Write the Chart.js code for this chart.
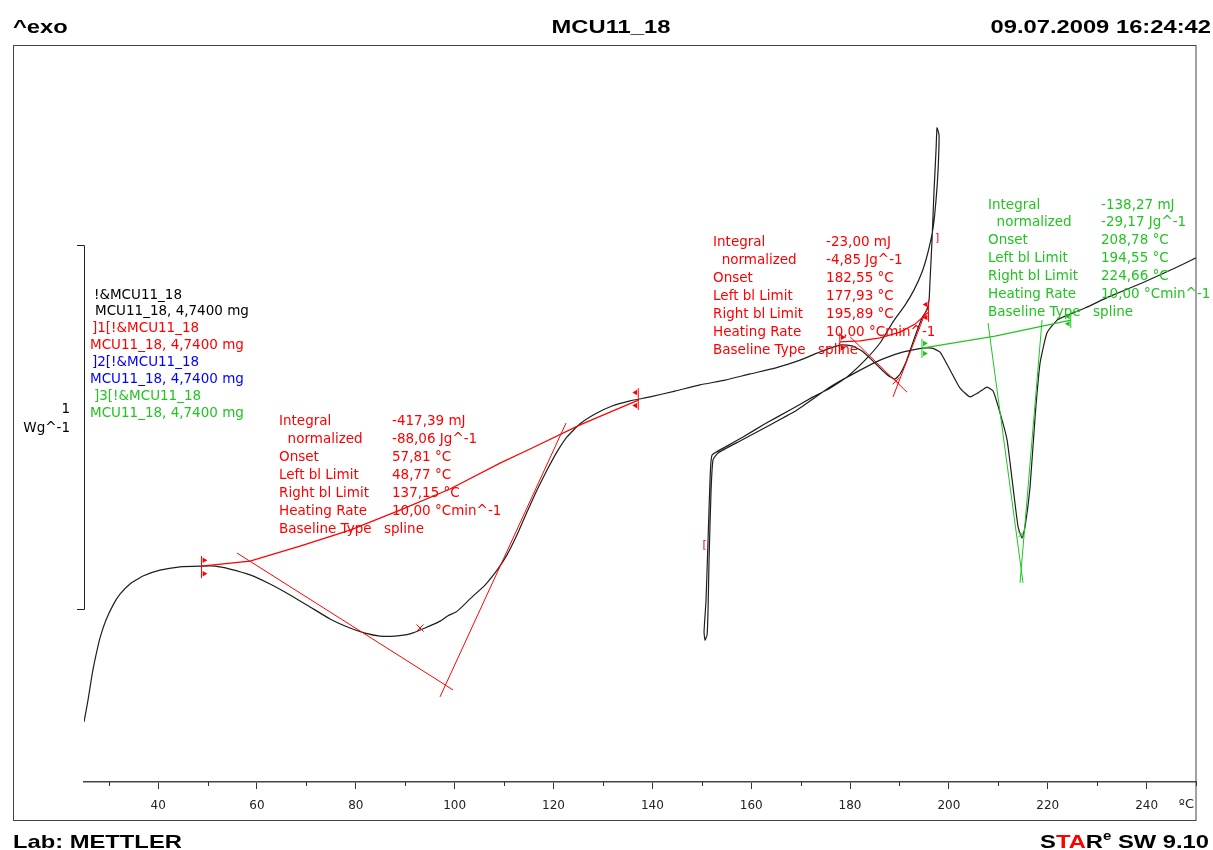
<!DOCTYPE html>
<html>
<head>
<meta charset="utf-8">
<title>MCU11_18</title>
<script src="https://cdn.jsdelivr.net/npm/chart.js@4.4.1/dist/chart.umd.min.js"></script>
<style>
  html, body { margin: 0; padding: 0; background: #fff; }
  canvas { display: block; }
</style>
</head>
<body>
<canvas id="dscChart" width="1213" height="850"></canvas>
<script>
// Temperature in °C, heat flow in W/g (exo up)

// first heating 25 -> 198 °C
const heat1T = [25.0, 25.81, 26.62, 27.43, 28.24, 29.45, 30.87, 32.28, 34.31, 36.94,
    40.38, 44.43, 48.47, 51.51, 54.54, 58.59, 62.64, 66.68, 70.73, 74.78,
    78.83, 81.86, 84.90, 87.93, 90.97, 94.0, 97.04, 98.66, 100.27, 101.69,
    103.11, 106.14, 108.57, 110.59, 112.62, 114.64, 116.66, 118.69, 120.71, 122.73,
    125.37, 128.40, 131.84, 135.48, 139.53, 144.59, 149.65, 154.71, 159.77, 164.82,
    169.88, 172.92, 175.95, 178.38, 180.40, 182.43, 184.45, 186.47, 188.09, 189.11,
    190.12, 191.33, 192.55, 193.76, 194.77, 195.58, 195.99, 196.19, 196.59, 197.0,
    197.40, 197.60];
const heat1W = [0.165, 0.225, 0.294, 0.349, 0.396, 0.445, 0.486, 0.516, 0.544, 0.566,
    0.582, 0.591, 0.593, 0.593, 0.585, 0.569, 0.544, 0.514, 0.481, 0.448,
    0.423, 0.409, 0.401, 0.401, 0.407, 0.423, 0.442, 0.457, 0.467, 0.484,
    0.503, 0.541, 0.582, 0.624, 0.679, 0.742, 0.802, 0.857, 0.907, 0.948,
    0.984, 1.011, 1.033, 1.047, 1.058, 1.074, 1.091, 1.104, 1.121, 1.137,
    1.159, 1.176, 1.192, 1.201, 1.198, 1.184, 1.159, 1.132, 1.113, 1.107,
    1.121, 1.154, 1.201, 1.247, 1.280, 1.297, 1.324, 1.379, 1.489, 1.626,
    1.736, 1.797];

// cooling 198 -> 152 °C
const coolT = [198.01, 197.81, 197.40, 196.80, 195.78, 194.57, 192.95, 191.13, 188.70, 186.07,
    183.04, 179.39, 175.95, 172.51, 167.86, 162.80, 158.35, 154.71, 152.08];
const coolW = [1.777, 1.681, 1.599, 1.522, 1.456, 1.401, 1.352, 1.310, 1.264, 1.206,
    1.159, 1.113, 1.082, 1.058, 1.022, 0.984, 0.948, 0.920, 0.898];

// second heating 150 -> 250 °C, with the start-up dip
const heat2T = [151.67, 151.27, 150.86, 150.46, 150.66, 151.07, 151.27, 151.47, 151.88, 152.28,
    153.29, 157.74, 163.81, 169.28, 175.95, 181.01, 186.07, 190.12, 192.75, 194.77,
    196.59, 198.21, 200.24, 202.26, 204.28, 205.90, 207.72, 208.94, 210.35, 211.77,
    212.98, 214.0, 214.80, 215.41, 216.42, 217.44, 218.45, 219.86, 221.89, 223.51,
    227.55, 232.21, 239.09, 245.76, 250.0];
const heat2W = [0.830, 0.665, 0.500, 0.412, 0.390, 0.404, 0.473, 0.610, 0.802, 0.885,
    0.904, 0.937, 0.981, 1.022, 1.085, 1.124, 1.159, 1.179, 1.187, 1.192,
    1.192, 1.181, 1.132, 1.082, 1.058, 1.069, 1.085, 1.074, 1.014, 0.940,
    0.810, 0.701, 0.670, 0.701, 0.810, 1.003, 1.151, 1.234, 1.269, 1.280,
    1.302, 1.332, 1.371, 1.412, 1.440];

// evaluation 1 (red): spline baseline and tangents
const base1T = [48.77, 58.59, 68.71, 78.83, 88.94, 99.06, 109.18, 115.25, 125.37, 137.15];
const base1W = [0.593, 0.607, 0.648, 0.692, 0.747, 0.805, 0.876, 0.915, 0.981, 1.049];
const tan1aT = [55.96, 99.67], tan1aW = [0.629, 0.253];
const tan1bT = [97.04, 122.53], tan1bW = [0.234, 0.986];

// evaluation 2 (red)
const base2T = [177.93, 182.02, 186.07, 190.12, 193.15, 195.89];
const base2W = [1.209, 1.212, 1.220, 1.236, 1.258, 1.291];
const tan2aT = [180.0, 191.53], tan2aW = [1.223, 1.071];
const tan2bT = [188.70, 195.58], tan2bW = [1.058, 1.302];

// evaluation 3 (green)
const base3T = [194.55, 209.34, 224.66];
const base3W = [1.192, 1.225, 1.269];
const tan3aT = [207.92, 215.0], tan3aW = [1.261, 0.547];
const tan3bT = [218.85, 214.40], tan3bW = [1.269, 0.547];

// limit flags: temperature, low / high end of the flag, direction
const redLimT = [48.77, 137.15, 177.93, 195.89];
const redLimLo = [0.560, 1.022, 1.181, 1.264];
const redLimHi = [0.621, 1.082, 1.234, 1.324];
const redLimDir = [1, -1, 1, -1];
const greenLimT = [194.55, 224.66];
const greenLimLo = [1.165, 1.247];
const greenLimHi = [1.217, 1.291];
const greenLimDir = [1, -1];

// peak crosses
const redCrossT = [92.99, 189.31], redCrossW = [0.423, 1.102];
const greenCrossT = [214.6], greenCrossW = [0.680];

// axis ticks
const majorTicks = [40, 60, 80, 100, 120, 140, 160, 180, 200, 220, 240];
const minorTicks = [30, 50, 70, 90, 110, 130, 150, 170, 190, 210, 230, 250];

// texts
const legendLines = ['!&MCU11_18', 'MCU11_18, 4,7400 mg', ']1[!&MCU11_18', 'MCU11_18, 4,7400 mg',
    ']2[!&MCU11_18', 'MCU11_18, 4,7400 mg', ']3[!&MCU11_18', 'MCU11_18, 4,7400 mg'];
const evalLabels = ['Integral', '  normalized', 'Onset', 'Left bl Limit', 'Right bl Limit',
    'Heating Rate', 'Baseline Type'];
const eval1Values = ['-417,39 mJ', '-88,06 Jg^-1', '57,81 °C', '48,77 °C', '137,15 °C', '10,00 °Cmin^-1', 'spline'];
const eval2Values = ['-23,00 mJ', '-4,85 Jg^-1', '182,55 °C', '177,93 °C', '195,89 °C', '10,00 °Cmin^-1', 'spline'];
const eval3Values = ['-138,27 mJ', '-29,17 Jg^-1', '208,78 °C', '194,55 °C', '224,66 °C', '10,00 °Cmin^-1', 'spline'];

const RED = '#ff0000';
const GREEN = '#22c422';
const BLUE = '#0000ff';
const CURVE = '#1e1e1e';
const TXT_FONT = '13.5px "DejaVu Sans", Verdana, sans-serif';

function pts(T, W) {
    return T.map((t, i) => ({ x: t, y: W[i] }));
}

// vertical flag lines, broken by gaps
function flagLines(T, lo, hi) {
    const out = [];
    T.forEach((t, i) => {
        out.push({ x: t, y: lo[i] }, { x: t, y: hi[i] }, { x: t, y: null });
    });
    return out;
}

function flagHeads(T, lo, hi, dir) {
    const out = [];
    T.forEach((t, i) => {
        out.push({ x: t + 0.55 * dir[i], y: lo[i] + 0.012 }, { x: t + 0.55 * dir[i], y: hi[i] - 0.012 });
    });
    return out;
}

function headRot(dir) {
    return dir.flatMap(d => d > 0 ? [90, 90] : [-90, -90]);
}

function lineSet(data, color, width) {
    return {
        data, borderColor: color, borderWidth: width, showLine: true,
        pointRadius: 0, fill: false, spanGaps: false, tension: 0
    };
}

const datasets = [
    lineSet(pts(base1T, base1W), RED, 1.2),
    lineSet(pts(tan1aT, tan1aW), RED, 1),
    lineSet(pts(tan1bT, tan1bW), RED, 1),
    lineSet(pts(base2T, base2W), RED, 1.2),
    lineSet(pts(tan2aT, tan2aW), RED, 1),
    lineSet(pts(tan2bT, tan2bW), RED, 1),
    lineSet(pts(base3T, base3W), GREEN, 1.2),
    lineSet(pts(tan3aT, tan3aW), GREEN, 1),
    lineSet(pts(tan3bT, tan3bW), GREEN, 1),
    lineSet(flagLines(redLimT, redLimLo, redLimHi), RED, 1),
    lineSet(flagLines(greenLimT, greenLimLo, greenLimHi), GREEN, 1),
    {
        data: flagHeads(redLimT, redLimLo, redLimHi, redLimDir),
        pointStyle: 'triangle', pointRadius: 3.2, pointRotation: headRot(redLimDir),
        backgroundColor: RED, borderColor: RED, borderWidth: 0, showLine: false
    },
    {
        data: flagHeads(greenLimT, greenLimLo, greenLimHi, greenLimDir),
        pointStyle: 'triangle', pointRadius: 3.2, pointRotation: headRot(greenLimDir),
        backgroundColor: GREEN, borderColor: GREEN, borderWidth: 0, showLine: false
    },
    {
        data: pts(redCrossT, redCrossW), pointStyle: 'crossRot', pointRadius: 5,
        borderColor: RED, borderWidth: 1, showLine: false
    },
    {
        data: pts(greenCrossT, greenCrossW), pointStyle: 'crossRot', pointRadius: 4,
        borderColor: GREEN, borderWidth: 1, showLine: false
    },
    {
        label: 'MCU11_18',
        data: [...pts(heat1T, heat1W), ...pts(coolT, coolW), ...pts(heat2T, heat2W)],
        borderColor: CURVE, borderWidth: 1.2, showLine: true, pointRadius: 0,
        fill: false, tension: 0.15
    }
];

// header / footer text is a wide bold face: draw it stretched
function drawRun(ctx, parts, x, y, align, sx) {
    let total = 0;
    parts.forEach(p => { ctx.font = p.font; total += ctx.measureText(p.t).width * sx; });
    let cx = align === 'right' ? x - total : align === 'center' ? x - total / 2 : x;
    parts.forEach(p => {
        ctx.font = p.font;
        ctx.fillStyle = p.c;
        ctx.save();
        ctx.translate(cx, y - (p.up || 0));
        ctx.scale(sx, 1);
        ctx.fillText(p.t, 0, 0);
        ctx.restore();
        cx += ctx.measureText(p.t).width * sx;
    });
}

function drawEval(ctx, x, y, labels, values, color, tempAt, wAt) {
    const lx = x.getPixelForValue(tempAt);
    const ty = y.getPixelForValue(wAt);
    ctx.fillStyle = color;
    ctx.font = TXT_FONT;
    ctx.textAlign = 'left';
    ctx.textBaseline = 'middle';
    labels.forEach((lab, i) => {
        const yy = ty + i * 17.9;
        ctx.fillText(lab, lx, yy);
        const vx = i === labels.length - 1 ? lx + 105 : lx + 113;
        ctx.fillText(values[i], vx, yy);
    });
}

const deco = {
    id: 'deco',
    afterDraw(chart) {
        const { ctx, chartArea: area, scales: { x, y } } = chart;
        ctx.save();

        // outer frame
        ctx.strokeStyle = '#444';
        ctx.lineWidth = 1;
        ctx.strokeRect(13.5, area.top + 0.5, area.right - 13.5, 820 - area.top);

        // minor ticks
        ctx.strokeStyle = '#333';
        ctx.beginPath();
        minorTicks.forEach(v => {
            const px = Math.round(x.getPixelForValue(v)) + 0.5;
            ctx.moveTo(px, area.bottom);
            ctx.lineTo(px, area.bottom + 4);
        });
        ctx.stroke();

        // unit of the x axis
        ctx.fillStyle = '#222';
        ctx.font = '13px "DejaVu Sans", Verdana, sans-serif';
        ctx.textAlign = 'right';
        ctx.textBaseline = 'middle';
        ctx.fillText('ºC', 1194, 805);

        // 1 W/g scale bar
        const yb0 = y.getPixelForValue(0.475);
        const yb1 = y.getPixelForValue(1.475);
        ctx.strokeStyle = '#222';
        ctx.beginPath();
        ctx.moveTo(77, Math.round(yb1) + 0.5);
        ctx.lineTo(area.left + 0.5, Math.round(yb1) + 0.5);
        ctx.lineTo(area.left + 0.5, Math.round(yb0) + 0.5);
        ctx.lineTo(77, Math.round(yb0) + 0.5);
        ctx.stroke();
        const mid = (yb0 + yb1) / 2;
        ctx.fillStyle = '#000';
        ctx.font = TXT_FONT;
        ctx.textAlign = 'right';
        ctx.fillText('1', 70, mid - 18);
        ctx.fillText('Wg^-1', 70, mid + 1);

        // legend of the curves
        const legColors = ['#000', '#000', RED, RED, BLUE, BLUE, GREEN, GREEN];
        const legX = [94, 95, 92, 90, 92, 90, 94, 90];
        ctx.textAlign = 'left';
        legendLines.forEach((t, i) => {
            ctx.fillStyle = legColors[i];
            ctx.fillText(t, legX[i], 295 + i * 16.9);
        });

        // evaluation blocks
        drawEval(ctx, x, y, evalLabels, eval1Values, RED, 64.46, 0.989);
        drawEval(ctx, x, y, evalLabels, eval2Values, RED, 152.28, 1.481);
        drawEval(ctx, x, y, evalLabels, eval3Values, GREEN, 207.92, 1.585);

        // integration limit brackets
        ctx.fillStyle = RED;
        ctx.font = '11px "DejaVu Sans", sans-serif';
        ctx.textAlign = 'center';
        ctx.fillText(']', x.getPixelForValue(197.6), y.getPixelForValue(1.495));
        ctx.fillText('[', x.getPixelForValue(150.6), y.getPixelForValue(0.651));

        // header and footer
        const bold = 'bold 19px "Liberation Sans", Arial, sans-serif';
        ctx.textBaseline = 'alphabetic';
        ctx.textAlign = 'left';
        drawRun(ctx, [{ t: '^exo', c: '#000', font: bold }], 13, 33, 'left', 1.25);
        drawRun(ctx, [{ t: 'MCU11_18', c: '#000', font: bold }], 611, 33, 'center', 1.25);
        drawRun(ctx, [{ t: '09.07.2009 16:24:42', c: '#000', font: bold }], 1211, 33, 'right', 1.25);
        drawRun(ctx, [{ t: 'Lab: METTLER', c: '#000', font: bold }], 13, 848, 'left', 1.25);
        drawRun(ctx, [
            { t: 'S', c: '#000', font: bold },
            { t: 'TA', c: RED, font: bold },
            { t: 'R', c: '#000', font: bold },
            { t: 'e', c: '#000', font: 'bold 12px "Liberation Sans", Arial, sans-serif', up: 8 },
            { t: ' SW 9.10', c: '#000', font: bold }
        ], 1209, 848, 'right', 1.25);

        ctx.restore();
    }
};

const ctx = document.getElementById('dscChart').getContext('2d');
const dscChart = new Chart(ctx, {
    type: 'scatter',
    data: { datasets },
    options: {
        responsive: false,
        animation: false,
        layout: { padding: { left: 84, right: 17, top: 45, bottom: 0 } },
        plugins: {
            legend: { display: false },
            tooltip: { enabled: false }
        },
        scales: {
            x: {
                type: 'linear',
                min: 25,
                max: 250,
                afterBuildTicks: s => { s.ticks = majorTicks.map(v => ({ value: v })); },
                afterFit: s => { s.height = 68; },
                ticks: {
                    font: { family: 'DejaVu Sans', size: 12 },
                    color: '#222',
                    padding: 10,
                    maxRotation: 0,
                    autoSkip: false
                },
                grid: {
                    drawOnChartArea: false,
                    drawTicks: true,
                    tickLength: 7,
                    tickColor: '#333',
                    tickWidth: 1
                },
                border: { display: true, color: '#444', width: 1.5 }
            },
            y: {
                type: 'linear',
                display: false,
                min: 0,
                max: 2.0247
            }
        }
    },
    plugins: [deco]
});
</script>
</body>
</html>
